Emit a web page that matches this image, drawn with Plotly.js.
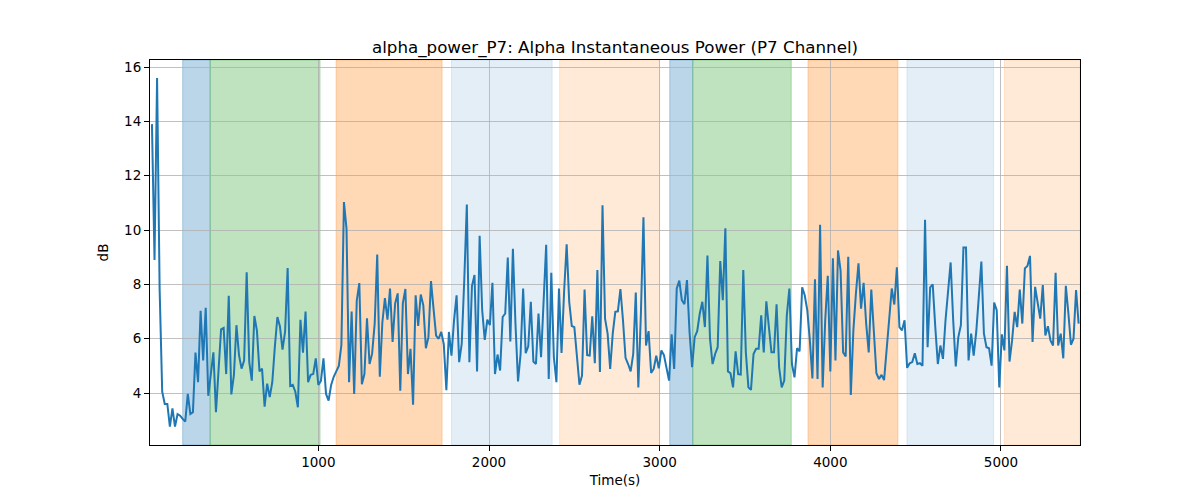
<!DOCTYPE html>
<html>
<head>
<meta charset="utf-8">
<script src="https://cdn.plot.ly/plotly-3.0.1.min.js"></script>
<style>
  body { margin: 0; background: #ffffff; }
  #chart { width: 1200px; height: 500px; }
</style>
</head>
<body>
<div id="chart"></div>
<script>
// =====================
// DATA
// =====================
// one sample every 15 s, first at t = 25 s
const sampleStart = 25;
const sampleStep = 15;

const powerDb = [
  13.9, 8.9, 15.6, 7.8, 4.05, 3.6, 3.6, 2.77, 3.44, 2.77,
  3.23, 3.17, 3.05, 2.95, 3.97, 3.23, 3.3, 5.49, 4.4, 7.03,
  5.2, 7.14, 3.9, 4.65, 5.5, 3.3, 4.7, 6.35, 6.4, 4.7,
  7.58, 3.95, 4.65, 6.5, 5.4, 4.9, 5.2, 8.45, 5.15, 4.46,
  6.84, 6.3, 4.8, 4.9, 3.5, 4.35, 3.85, 4.4, 5.7, 6.8,
  6.45, 5.6, 6.26, 8.6, 4.26, 4.3, 4.05, 3.48, 6.7, 5.49,
  7.0, 4.4, 4.67, 4.7, 5.28, 4.3, 4.45, 5.28, 3.97, 3.72,
  4.3, 4.6, 4.8, 5.0, 5.77, 11.03, 10.05, 4.4, 7.0, 3.97,
  7.4, 8.05, 4.33, 4.7, 6.75, 5.07, 5.45, 6.55, 9.1, 4.6,
  6.6, 7.5, 6.7, 7.85,
  5.88, 7.3, 7.67, 4.09, 7.3, 7.83, 4.7, 5.63, 3.57, 7.6,
  6.47, 7.63, 7.23, 5.65, 6.06, 8.12, 7.1, 6.12, 6.0, 6.25,
  5.8, 4.11, 6.25, 5.38, 6.68, 7.6,
  5.14, 5.81, 8.16, 10.94, 5.14, 7.94, 8.35, 4.8, 9.79, 7.05,
  5.96, 6.7, 6.5, 8.06, 4.7, 5.42, 4.83, 6.8, 6.93, 8.99,
  5.9, 9.31, 6.56, 4.43, 5.44, 7.85, 5.47, 5.72, 7.36, 5.16,
  5.07, 6.93, 5.32, 7.42, 9.46, 4.52, 8.43, 5.32, 4.4, 7.85,
  5.48, 7.73, 9.48, 7.36, 6.47, 6.43, 5.5, 4.31, 4.64, 7.81,
  5.4, 5.38, 6.83, 5.1, 8.53, 4.78, 10.91, 6.74, 6.19, 4.89,
  6.19,
  6.99, 7.01, 7.83, 6.68, 5.3, 5.07, 4.8, 5.44, 7.7, 4.21,
  6.93, 10.47, 5.75, 6.28, 4.74, 4.89, 5.38, 4.91, 5.57, 5.4,
  4.89, 4.46, 6.16, 4.89, 7.85, 8.14, 7.42, 7.27, 8.16, 6.25,
  4.95, 6.06, 6.28, 6.93, 7.36, 6.43, 9.06, 6.0, 5.07, 5.44,
  5.69, 8.86, 7.42, 10.07, 4.8, 4.73, 4.21, 5.54, 4.7, 4.68,
  8.53, 5.5, 4.21, 4.12, 5.44, 5.63, 5.63, 6.86, 5.5, 7.38,
  6.43,
  5.5, 5.5, 7.27, 4.95, 4.21, 4.46, 6.86, 7.85, 5.07, 4.58,
  5.65, 5.54, 7.89, 7.6, 7.05, 5.94, 4.54, 8.19, 4.52, 10.2,
  4.21, 6.68, 8.32, 4.8, 8.96, 5.2, 9.25, 8.51, 5.5, 5.35,
  9.02, 3.93, 6.31, 7.67, 8.78, 7.11, 8.06, 6.56, 5.5, 7.81,
  6.43, 4.73, 4.52, 4.67, 4.48, 5.57, 6.56, 7.85, 7.26, 8.63,
  6.43, 6.31, 6.68, 4.93, 5.1, 5.14, 5.47, 5.07, 5.1, 5.01,
  10.38, 5.69, 7.89, 8.0, 6.43, 5.07, 5.75, 5.26, 6.68, 7.79,
  8.81, 6.68, 4.98, 6.06, 6.5, 9.36, 9.36, 5.2, 6.19, 5.38,
  6.25, 7.54, 8.84, 6.19, 5.69, 5.65, 5.01, 7.33, 7.05, 4.21,
  6.16, 5.57, 8.69, 5.16, 5.94, 6.99, 6.43, 7.81, 6.56, 8.59,
  8.68, 9.05, 5.88, 7.91, 7.3, 6.74, 7.98, 6.12, 6.46, 5.94,
  5.75, 8.43, 5.75, 6.19, 5.28, 7.95, 6.93, 5.78, 6.0, 7.79,
  6.56
];

// shaded intervals (seconds)
const spanStarts = [205, 366, 1104, 1780, 2414, 3059, 3194, 3869, 4449, 5020];
const spanEnds   = [366, 1010, 1725, 2370, 3000, 3194, 3771, 4396, 4957, 5463];
const spanKinds  = ["blue", "green", "orange", "paleBlue", "paleOrange",
                    "blue", "green", "orange", "paleBlue", "paleOrange"];

const xTicks = [1000, 2000, 3000, 4000, 5000];
const yTicks = [4, 6, 8, 10, 12, 14, 16];

// =====================
// STYLE
// =====================
const spanColors = {
    blue: "rgba(31,119,180,0.3)",
    green: "rgba(44,160,44,0.3)",
    orange: "rgba(255,127,14,0.3)",
    paleBlue: "rgba(31,119,180,0.12)",
    paleOrange: "rgba(255,127,14,0.16)"
};

const times = powerDb.map((_, i) => sampleStart + i * sampleStep);

const trace = {
    type: "scatter",
    mode: "lines",
    x: times,
    y: powerDb,
    line: { color: "#1f77b4", width: 2 },
    showlegend: false,
    hoverinfo: "x+y"
};

const shapes = spanStarts.map((s, i) => ({
    type: "rect",
    xref: "x",
    yref: "paper",
    x0: s,
    x1: spanEnds[i],
    y0: 0,
    y1: 1,
    fillcolor: spanColors[spanKinds[i]],
    line: { color: spanColors[spanKinds[i]], width: 1 },
    layer: "below"
}));

const axisCommon = {
    showline: true,
    linecolor: "#000000",
    linewidth: 1,
    mirror: true,
    ticks: "outside",
    ticklen: 5,
    tickwidth: 1,
    tickcolor: "#000000",
    showgrid: true,
    gridcolor: "#b0b0b0",
    gridwidth: 0.8,
    zeroline: false,
    tickfont: { size: 13.5, color: "#000000" }
};

const layout = {
    width: 1200,
    height: 500,
    margin: { l: 150, r: 120, t: 60, b: 55 },
    paper_bgcolor: "#ffffff",
    plot_bgcolor: "#ffffff",
    font: { family: "DejaVu Sans", color: "#000000", size: 13.5 },
    title: {
        text: "alpha_power_P7: Alpha Instantaneous Power (P7 Channel)",
        font: { size: 16.7, color: "#000000" },
        x: 0.5,
        xref: "paper",
        xanchor: "center",
        y: 1,
        yref: "paper",
        yanchor: "bottom",
        pad: { b: 7 }
    },
    xaxis: Object.assign({}, axisCommon, {
        range: [13.5, 5463],
        tickvals: xTicks,
        title: { text: "Time(s)", font: { size: 13.5 }, standoff: 6 }
    }),
    yaxis: Object.assign({}, axisCommon, {
        range: [2.09, 16.26],
        tickvals: yTicks,
        title: { text: "dB", font: { size: 13.5 }, standoff: 12 }
    }),
    shapes: shapes
};

Plotly.newPlot("chart", [trace], layout, { displayModeBar: false, staticPlot: true });
</script>
</body>
</html>
